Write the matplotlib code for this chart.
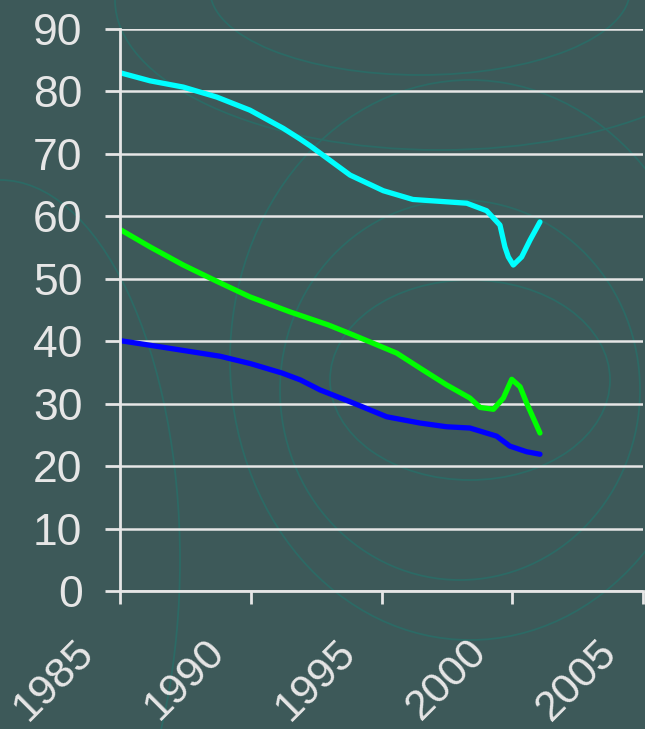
import matplotlib
matplotlib.use("Agg")
import matplotlib.pyplot as plt
from matplotlib.patches import Ellipse
import matplotlib.transforms as mtransforms

# ---- data ----
cyan_years = [1985.0, 1986.15, 1987.42, 1988.7, 1989.97, 1991.24, 1991.88, 1992.27, 1993.8,
              1995.07, 1996.2, 1998.26, 1999.02, 1999.53, 1999.72, 1999.85, 2000.04,
              2000.36, 2000.68, 2001.06]
cyan_vals = [83.0, 81.7, 80.7, 79.1, 77.0, 74.1, 72.4, 71.3, 66.6,
             64.1, 62.7, 62.1, 60.9, 58.6, 55.1, 53.5, 52.2,
             53.5, 56.2, 59.1]

green_years = [1985.0, 1986.15, 1987.42, 1988.7, 1989.97, 1991.5, 1992.97, 1993.92, 1995.58,
               1996.47, 1997.49, 1998.38, 1998.77, 1999.28, 1999.66, 1999.85, 1999.98,
               2000.3, 2000.55, 2001.06]
green_vals = [57.9, 55.1, 52.2, 49.6, 47.1, 44.7, 42.6, 41.0, 38.1,
              35.7, 33.0, 30.9, 29.4, 29.1, 30.9, 32.7, 33.9,
              32.7, 30.1, 25.3]

blue_years = [1985.0, 1987.0, 1988.82, 1990.0, 1991.2, 1991.9, 1992.65, 1993.92, 1995.2,
              1996.47, 1997.49, 1998.38, 1999.4, 1999.91, 2000.55, 2001.06]
blue_vals = [40.1, 38.8, 37.6, 36.4, 34.9, 33.8, 32.2, 30.1, 27.9,
             26.9, 26.3, 26.1, 24.8, 23.2, 22.3, 21.9]

x_ticks = [1985, 1990, 1995, 2000, 2005]
y_ticks = [0, 10, 20, 30, 40, 50, 60, 70, 80, 90]

BG = "#3d5959"
FG = "#e6e6e6"
DECO = "#2c6a65"

fig = plt.figure(figsize=(6.45, 7.29), dpi=100)
fig.patch.set_facecolor(BG)

# decorative faint contour-like curves in the background
deco = fig.add_axes([0, 0, 1, 1], zorder=0)
deco.set_xlim(0, 645)
deco.set_ylim(729, 0)
deco.axis("off")
for (cx, cy, w, h) in [(470, 360, 480, 560), (460, 390, 360, 380), (440, 0, 650, 300),
                       (420, -10, 420, 170), (0, 560, 360, 760), (470, 380, 280, 200)]:
    deco.add_patch(Ellipse((cx, cy), w, h, fill=False, ec=DECO, lw=1.3))

ax = fig.add_axes([120/645, 1 - 591/729, (643 - 120)/645, (591 - 29)/729], zorder=1)
ax.set_facecolor("none")

for yrs, vals, col in [(cyan_years, cyan_vals, "#00ffff"),
                       (green_years, green_vals, "#00ff00"),
                       (blue_years, blue_vals, "#0000ff")]:
    ax.plot(yrs, vals, color=col, lw=3.8, solid_capstyle="round", solid_joinstyle="round")

ax.set_xlim(1985, 2005)
ax.set_ylim(0, 90)
ax.set_xticks(x_ticks)
ax.set_yticks(y_ticks)
ax.set_xticklabels([str(t) for t in x_ticks], rotation=45, ha="right", va="top",
                   rotation_mode="anchor")
ax.yaxis.grid(True, color=FG, lw=1.8)
ax.set_axisbelow(True)

for s in ["top", "right"]:
    ax.spines[s].set_visible(False)
for s in ["left", "bottom"]:
    ax.spines[s].set_color(FG)
    ax.spines[s].set_linewidth(2)

ax.tick_params(axis="y", colors=FG, length=11, width=2, pad=16, labelsize=32)
ax.tick_params(axis="x", colors=FG, length=9.5, width=2, pad=20, labelsize=31)
offset = mtransforms.ScaledTranslation(-46/100, 0, fig.dpi_scale_trans)
for lab in ax.get_xticklabels():
    lab.set_transform(lab.get_transform() + offset)
for lab in ax.get_xticklabels() + ax.get_yticklabels():
    lab.set_fontfamily("Liberation Sans")
    lab.set_color(FG)

fig.savefig("out.png", dpi=100, facecolor=BG)
